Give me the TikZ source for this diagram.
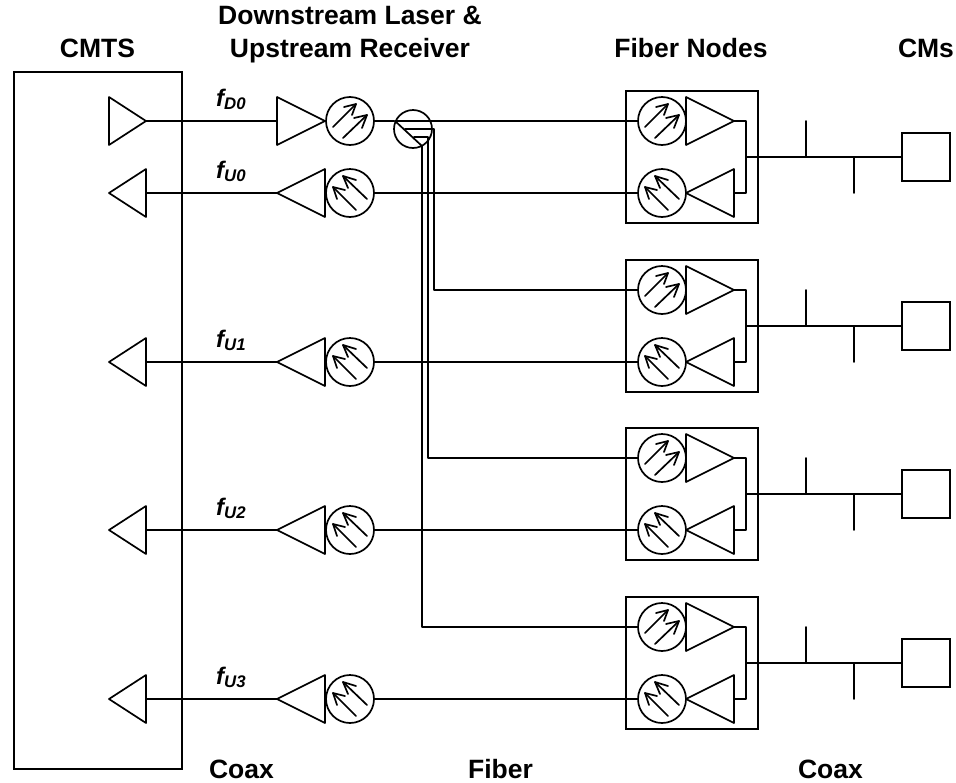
\documentclass[tikz,border=0pt]{standalone}
\usepackage{fontspec}
\setmainfont{Liberation Sans}
\tikzset{
  x=1pt,y=-1pt,
  wire/.style={line width=1.7pt,line cap=round,line join=round},
  tri/.style={wire},
  disc/.style={circle,draw,line width=1.7pt,minimum size=48pt,inner sep=0pt,outer sep=0pt},
  bigdisc/.style={circle,draw,line width=1.7pt,minimum size=38pt,inner sep=0pt,outer sep=0pt},
  frame/.style={rectangle,draw,line width=1.7pt,inner sep=0pt,outer sep=0pt},
  head/.style={font=\fontsize{26.5}{33}\selectfont\bfseries,align=center,inner sep=0pt},
  freq/.style={font=\fontsize{24}{27}\selectfont\bfseries\itshape,inner sep=0pt}
}
% triangle pointing right: centre x, half width, y
\newcommand{\triR}[4]{\draw[tri] (#2-#3,#4-24) -- (#2+#3,#4) coordinate (#1tip) -- (#2-#3,#4+24) -- cycle; \coordinate (#1b) at (#2-#3,#4);}
\newcommand{\triL}[4]{\draw[tri] (#2+#3,#4-24) -- (#2-#3,#4) coordinate (#1tip) -- (#2+#3,#4+24) -- cycle; \coordinate (#1b) at (#2+#3,#4);}
% laser arrows (pointing up-right)
\newcommand{\laser}[3]{\node[disc] (#1) at (#2,#3) {};
  \draw[wire] (#2-17,#3+6) -- (#2+6,#3-17);
  \draw[wire] (#2-6,#3-14) -- (#2+6,#3-17) -- (#2+2,#3-6);
  \draw[wire] (#2-7,#3+17) -- (#2+17,#3-6);
  \draw[wire] (#2+4,#3-3) -- (#2+17,#3-6) -- (#2+12,#3+7);}
% receiver arrows (pointing up-left)
\newcommand{\recv}[3]{\node[disc] (#1) at (#2,#3) {};
  \draw[wire] (#2+17,#3+6) -- (#2-7,#3-17);
  \draw[wire] (#2+6,#3-13) -- (#2-7,#3-17) -- (#2-2,#3-5);
  \draw[wire] (#2+6,#3+17) -- (#2-17,#3-6);
  \draw[wire] (#2-5,#3-3) -- (#2-17,#3-6) -- (#2-13,#3+6);}
\begin{document}
\begin{tikzpicture}
\useasboundingbox (0,0) rectangle (956,782);
% headers
\node[head,anchor=base] (hcmts) at (97.5,57) {CMTS};
\node[head] (hlaser) at (350,35) {Downstream Laser \&\\Upstream Receiver};
\node[head,anchor=base] (hfn) at (691,57) {Fiber Nodes};
\node[head,anchor=base] (hcm) at (926,57) {CMs};
\node[head,anchor=base] (lc1) at (241.5,778) {Coax};
\node[head,anchor=base] (lf) at (500.5,778) {Fiber};
\node[head,anchor=base] (lc2) at (830.5,778) {Coax};
% CMTS
\node[frame,minimum width=168pt,minimum height=697pt] (cmts) at (98,420.5) {};
% downstream
\triR{ca}{127.5}{18.5}{121}
\triR{da}{301}{24}{121}
\laser{dl}{350}{121}
\draw[wire] (catip) -- (dab);
\node[bigdisc] (split) at (413,129) {};
\draw[wire] (dl.east) -- (split.west |- dl.east);
\node[freq,anchor=base west] (fd) at (216,106) {f\textsubscript{D0}};
\foreach \n/\ya/\yb/\lab in {0/193/121/U0,1/362/290/U1,2/530/458/U2,3/699/627/U3}{
  % upstream at the head end
  \triL{cu\n}{127.5}{18.5}{\ya}
  \triL{ru\n}{301}{24}{\ya}
  \recv{rx\n}{350}{\ya}
  \draw[wire] (ru\n tip) -- (cu\n b);
  \node[freq,anchor=base west] (ft\n) at (216,\ya-15) {f\textsubscript{\lab}};
  % fiber node
  \node[frame,minimum width=132pt,minimum height=132pt] (fn\n) at (692,\yb+36) {};
  \laser{nl\n}{662}{\yb}
  \recv{nr\n}{662}{\ya}
  \triR{na\n}{710}{24}{\yb}
  \triL{nu\n}{710}{24}{\ya}
  \coordinate (j\n) at (746,\yb+36);
  \draw[wire] (na\n tip) -- (746,\yb) -- (746,\ya) -- (nu\n b);
  % coax
  \node[frame,minimum size=48pt] (cm\n) at (926,\yb+36) {};
  \draw[wire] (j\n) -- (cm\n.west);
  \coordinate (ta\n) at (806,\yb+36);
  \coordinate (tb\n) at (854,\yb+36);
  \draw[wire] (ta\n) -- (806,\yb);
  \draw[wire] (tb\n) -- (854,\ya);
  % upstream fiber
  \draw[wire] (rx\n.east) -- (nr\n.west);
}
% splitter
\draw[wire] (395,121) -- (nl0.west);
\draw[wire] (395,121) -- (422,146);
\draw[wire] (405,129) -- (434,129) -- (434,290) -- (nl1.west);
\draw[wire] (414,137) -- (428,137) -- (428,458) -- (nl2.west);
\draw[wire] (422,146) -- (422,627) -- (nl3.west);
\end{tikzpicture}
\end{document}
